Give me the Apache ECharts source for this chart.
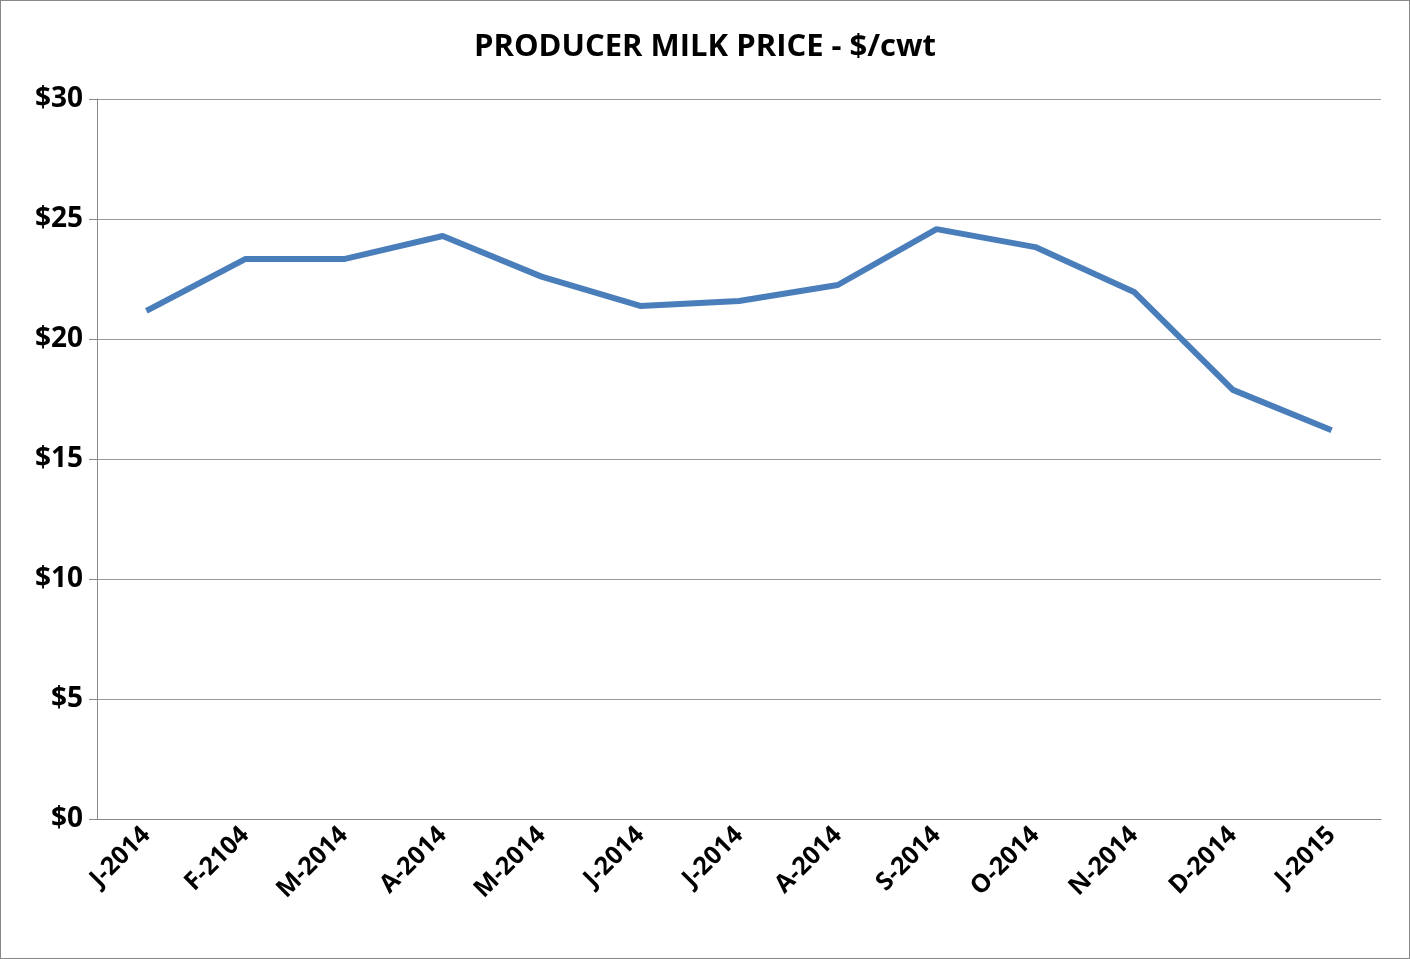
<!DOCTYPE html>
<html>
<head>
<meta charset="utf-8">
<script src="https://cdn.jsdelivr.net/npm/echarts@6/dist/echarts.min.js"></script>
<style>
  html, body { margin: 0; padding: 0; background: #fff; }
  #chart { width: 1408px; height: 957px; border: 1px solid #888; }
</style>
</head>
<body>
<div id="chart"></div>
<script>
const months = ['J-2014', 'F-2104', 'M-2014', 'A-2014', 'M-2014', 'J-2014', 'J-2014',
  'A-2014', 'S-2014', 'O-2014', 'N-2014', 'D-2014', 'J-2015'];
const prices = [21.17, 23.33, 23.33, 24.29, 22.6, 21.38, 21.58, 22.25, 24.58, 23.83, 21.96, 17.88, 16.2];

const chart = echarts.init(document.getElementById('chart'));
const font = '"Open Sans", "Liberation Sans", sans-serif';

chart.setOption({
  animation: false,
  title: {
    text: 'PRODUCER MILK PRICE - $/cwt',
    left: 'center',
    top: 26,
    textStyle: { fontFamily: font, fontSize: 31, fontWeight: 'bold', color: '#000' }
  },
  grid: { left: 96, right: 28, top: 98, bottom: 139 },
  xAxis: {
    type: 'category',
    data: months,
    boundaryGap: true,
    axisLine: { lineStyle: { color: '#888' } },
    axisTick: { length: 8, lineStyle: { color: '#888' } },
    axisLabel: {
      rotate: 45, interval: 0, margin: 12,
      fontFamily: font, fontSize: 25, fontWeight: 'bold', color: '#000'
    }
  },
  yAxis: {
    type: 'value',
    min: 0, max: 30, interval: 5,
    axisLine: { show: true, lineStyle: { color: '#888' } },
    axisTick: { show: true, length: 8, lineStyle: { color: '#888' } },
    splitLine: { lineStyle: { color: '#999', width: 1 } },
    axisLabel: {
      formatter: v => '$' + v,
      fontFamily: font, fontSize: 28, fontWeight: 'bold', color: '#000', margin: 14
    }
  },
  series: [{
    type: 'line',
    data: prices,
    showSymbol: false,
    lineStyle: { color: '#4a7ebb', width: 6 }
  }]
});
</script>
</body>
</html>
